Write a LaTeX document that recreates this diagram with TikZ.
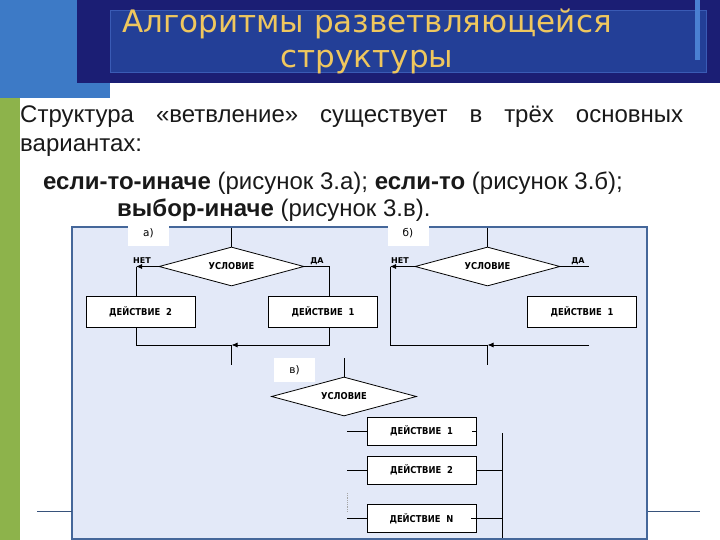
\documentclass[tikz,border=0pt]{standalone}
\usepackage{fontspec}
\setmainfont{Liberation Sans}
\newfontfamily\djv{DejaVu Sans}
\newfontfamily\djvc[FakeStretch=0.88]{DejaVu Sans}
\usetikzlibrary{shapes.geometric,arrows.meta}
\definecolor{lblue}{HTML}{3D7AC6}
\definecolor{lgreen}{HTML}{8DB34B}
\definecolor{navy}{HTML}{1B1E74}
\definecolor{navyin}{HTML}{233F97}
\definecolor{navyline}{HTML}{3A5BB5}
\definecolor{barblue}{HTML}{4A80D2}
\definecolor{ttl}{HTML}{EFC75E}
\definecolor{panelfill}{HTML}{E3E9F8}
\definecolor{panelline}{HTML}{45679A}
\tikzset{
  actbox/.style={draw, fill=white, line width=0.8pt, inner sep=0pt, minimum width=109pt, minimum height=31pt, font=\djvc\bfseries\fontsize{9.5}{11}\selectfont},
  cond/.style={diamond, aspect=3.7, draw, fill=white, line width=0.8pt, inner sep=0pt, minimum width=145pt, minimum height=39pt, font=\djvc\bfseries\fontsize{9.5}{11}\selectfont},
  flow/.style={line width=0.8pt},
  arr/.style={line width=0.8pt, -{Latex[length=6pt,width=5pt]}},
  tag/.style={fill=white, inner sep=0pt, minimum width=41pt, minimum height=24pt, font=\djv\fontsize{10.5}{12}\selectfont},
  yn/.style={font=\djv\bfseries\fontsize{8}{9}\selectfont, inner sep=0pt},
  body/.style={font=\fontsize{24}{28}\selectfont, inner sep=0pt, anchor=base west, text=black!90}
}
\begin{document}
\begin{tikzpicture}[x=1pt,y=-1pt]
\useasboundingbox (0,0) rectangle (720,540);
% background decoration
\fill[lblue] (0,0) rectangle (110,98);
\fill[lgreen] (0,98) rectangle (20,540);
\fill[navy] (77,0) rectangle (720,83);
\fill[navyin] (110,10) rectangle (706,72);
\draw[navyline, line width=0.8pt] (110,10) rectangle (706,72);
\fill[barblue] (695,0) rectangle (700,60);
% title
\node[font=\djv\fontsize{31}{36}\selectfont, text=ttl, anchor=base, inner sep=0] (t1) at (367,33) {Алгоритмы разветвляющейся};
\node[font=\djv\fontsize{31}{36}\selectfont, text=ttl, anchor=base, inner sep=0] (t2) at (367,68) {структуры};
% body text
\node[body] (l1) at (20,123) {\makebox[663pt][s]{Структура «ветвление» существует в трёх основных}};
\node[body] (l2) at (20,152) {вариантах:};
\node[body] (l3) at (43,190) {\textbf{если-то-иначе} (рисунок 3.а); \textbf{если-то} (рисунок 3.б);};
\node[body] (l4) at (117,217) {\textbf{выбор-иначе} (рисунок 3.в).};
% panel
\draw[panelline, fill=panelfill, line width=1.6pt] (72,227) rectangle (647,539);
\coordinate (exl1) at (37,511); \coordinate (exl2) at (72,511);
\coordinate (exr1) at (648,511); \coordinate (exr2) at (700,511);
\draw[panelline!80!black, line width=0.8pt] (exl1) -- (exl2);
\draw[panelline!80!black, line width=0.8pt] (exr1) -- (exr2);
% tags
\node[tag] (tga) at (148.5,233.5) {а)};
\node[tag] (tgb) at (408,233.5) {б)};
\node[tag] (tgc) at (294.5,370) {в)};

% ---- diagram a ----
\node[cond] (ca) at (231.5,266.5) {УСЛОВИЕ};
\coordinate (ta) at (231.5,228);
\draw[flow] (ta) -- (ca.north);
\node[actbox] (a2) at (140.5,311.5) {ДЕЙСТВИЕ\ \ 2};
\node[actbox] (a1) at (323,311.5) {ДЕЙСТВИЕ\ \ 1};
\coordinate (na) at (136,266.5);
\coordinate (ya) at (329,266.5);
\coordinate (ma) at (231.5,345);
\coordinate (ea) at (231.5,365);
\draw[arr] (ca.west) -- (na);
\draw[flow] (na) -- (na |- a2.north);
\draw[flow] (ca.east) -- (ya) -- (ya |- a1.north);
\draw[flow] (na |- a2.south) -- (na |- ma) -- (ma);
\draw[arr] (ya |- a1.south) -- (ya |- ma) -- (ma);
\draw[flow] (ma) -- (ea);
\node[yn] (nta) at (142,261) {НЕТ};
\node[yn] (daa) at (317,261) {ДА};

% ---- diagram b ----
\node[cond] (cb) at (487.5,266.5) {УСЛОВИЕ};
\coordinate (tb) at (487.5,228);
\draw[flow] (tb) -- (cb.north);
\node[actbox] (b1) at (582,311.5) {ДЕЙСТВИЕ\ \ 1};
\coordinate (nb) at (390,266.5);
\coordinate (yb) at (589,266.5);
\coordinate (mb) at (487.5,345);
\coordinate (rb) at (589,345);
\coordinate (eb) at (487.5,365);
\draw[arr] (cb.west) -- (nb);
\draw[flow] (nb) -- (nb |- mb) -- (mb);
\draw[flow] (cb.east) -- (yb);
\draw[arr] (rb) -- (mb);
\draw[flow] (mb) -- (eb);
\node[yn] (ntb) at (400,261) {НЕТ};
\node[yn] (dab) at (578,261) {ДА};

% ---- diagram c ----
\node[cond] (cc) at (344,396.5) {УСЛОВИЕ};
\coordinate (tc) at (344,358);
\draw[flow] (tc) -- (cc.north);
\node[actbox, minimum height=28pt] (c1) at (421.5,431) {ДЕЙСТВИЕ\ \ 1};
\node[actbox, minimum height=28pt] (c2) at (421.5,470) {ДЕЙСТВИЕ\ \ 2};
\node[actbox, minimum height=28pt] (cn) at (421.5,518.5) {ДЕЙСТВИЕ\ \ N};
\coordinate (lx) at (347,0);
\coordinate (rx) at (502,0);
\draw[flow] (lx |- c1.west) -- (c1.west);
\draw[flow] (lx |- c2.west) -- (c2.west);
\draw[flow] (lx |- cn.west) -- (cn.west);
\coordinate (d1) at (347,493); \coordinate (d2) at (347,512);
\draw[gray!70, line width=0.8pt, densely dotted] (d1) -- (d2);
\draw[flow] ([xshift=-4pt]c1.east) -- (c1.east);
\draw[flow] (c2.east) -- (rx |- c2.east);
\draw[flow] ([xshift=-5pt]cn.east) -- (rx |- cn.east);
\coordinate (rtop) at (502,433); \coordinate (rbot) at (502,538);
\draw[flow] (rtop) -- (rbot);
\end{tikzpicture}
\end{document}
